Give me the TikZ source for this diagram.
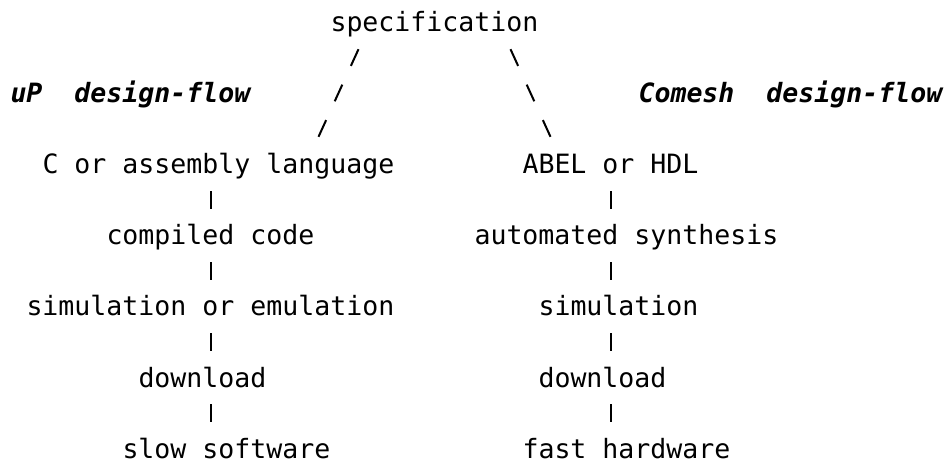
\documentclass[tikz,border=0pt]{standalone}
\usepackage{fontspec}
\newfontfamily\codefont{DejaVu Sans Mono}
\begin{document}
\begin{tikzpicture}[x=0.75pt,y=-0.75pt,
  txt/.style={anchor=base west, inner sep=0pt, outer sep=0pt,
    font={\codefont\fontsize{19.93pt}{24pt}\selectfont}},
  flowlabel/.style={txt,
    font={\codefont\bfseries\itshape\fontsize{19.93pt}{24pt}\selectfont}},
  bar/.style={line width=1.5pt, shorten <=13.1pt, shorten >=27pt},
  slashrun/.style={line width=1.5pt, dash pattern=on 13.73pt off 15.5pt}]

% page frame
\fill[white] (0,0) rectangle (949,462);
\useasboundingbox (0,0) rectangle (949,462);

% columns on a 16px character grid, rows 35.5px apart
\node[txt] (spec)  at (330.5, 31.7)  {specification};

\node[flowlabel] (uplab)     at (10.5, 102.8)  {uP\ \ design-flow};
\node[flowlabel] (comeshlab) at (638.5, 102.8) {Comesh\ \ design-flow};

% software branch
\node[txt] (asm)  at (42.5, 173.8)  {C or assembly language};
\node[txt] (comp) at (106.5, 244.9) {compiled code};
\node[txt] (emu)  at (26.5, 315.9)  {simulation or emulation};
\node[txt] (dlL)  at (138.5, 387.0) {download};
\node[txt] (slow) at (122.5, 458.1) {slow software};

% hardware branch
\node[txt] (abel)  at (522.5, 173.8) {ABEL or HDL};
\node[txt] (synth) at (474.5, 244.9) {automated synthesis};
\node[txt] (sim)   at (538.5, 315.9) {simulation};
\node[txt] (dlR)   at (538.5, 387.0) {download};
\node[txt] (fast)  at (522.5, 458.1) {fast hardware};

% branch lines from the specification
\coordinate (lt) at (358.5, 49.2);
\coordinate (lb) at (318.5, 136.8);
\coordinate (rt) at (510.5, 49.2);
\coordinate (rb) at (550.5, 136.8);
\draw[slashrun] (lt) -- (lb);
\draw[slashrun] (rt) -- (rb);

% vertical links between the steps
\coordinate (colL) at (210.5, 0);
\coordinate (colR) at (610.5, 0);
\draw[bar] (asm.base -| colL)  -- (comp.base -| colL);
\draw[bar] (comp.base -| colL) -- (emu.base -| colL);
\draw[bar] (emu.base -| colL)  -- (dlL.base -| colL);
\draw[bar] (dlL.base -| colL)  -- (slow.base -| colL);
\draw[bar] (abel.base -| colR)  -- (synth.base -| colR);
\draw[bar] (synth.base -| colR) -- (sim.base -| colR);
\draw[bar] (sim.base -| colR)   -- (dlR.base -| colR);
\draw[bar] (dlR.base -| colR)   -- (fast.base -| colR);
\end{tikzpicture}
\end{document}
